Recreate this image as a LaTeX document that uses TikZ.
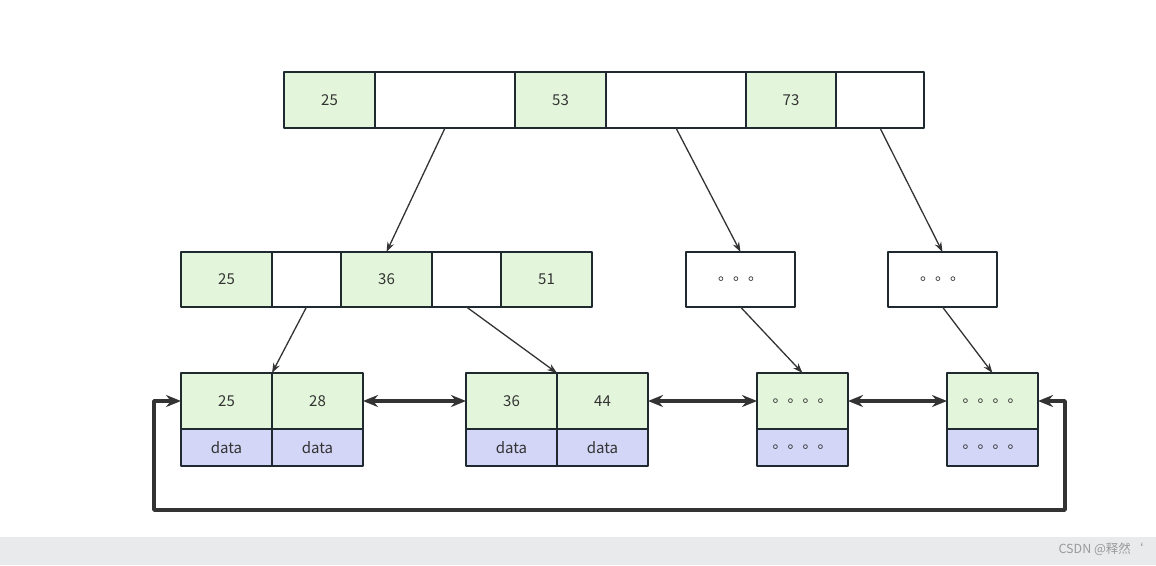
\documentclass[tikz,border=0pt]{standalone}
\usepackage{fontspec}
\setmainfont{Noto Sans CJK SC}
\usetikzlibrary{arrows.meta}
\definecolor{keygreen}{HTML}{E3F5DA}
\definecolor{datablue}{HTML}{D3D6F7}
\definecolor{edgedark}{HTML}{1F2A30}
\definecolor{inkgray}{HTML}{333333}
\definecolor{barback}{HTML}{E9EAEC}
\definecolor{markgray}{HTML}{9A9A9A}
\begin{document}
\begin{tikzpicture}[x=1pt, y=-1pt, font=\fontsize{15}{17}\selectfont, line join=round, >=Stealth]
	\tikzset{cell/.style={draw=edgedark, line width=1.6pt, inner sep=0pt, outer sep=0pt, text=inkgray, minimum height=56pt},
		keycell/.style={cell, fill=keygreen},
		emptycell/.style={cell, fill=white},
		datacell/.style={cell, fill=datablue, minimum height=37pt},
		link/.style={->, draw=inkgray, line width=1.3pt, >={Stealth[length=10pt,width=7pt]}},
		chain/.style={<->, draw=inkgray, line width=3.6pt, >={Stealth[length=15pt,width=12pt]}}}
	\useasboundingbox (0,0) rectangle (1156,565);
	\fill[barback] (0,537) rectangle (1156,565);
	\node[text=markgray, font=\fontsize{12.5}{14}\selectfont] (mark) at (1101,549) {CSDN @释然\symbol{96}};
	% root
	\foreach \nm/\cx/\cw/\st/\txt in {t1/329.5/91/keycell/25, t2/445/140/emptycell/, t3/560.5/91/keycell/53, t4/676/140/emptycell/, t5/791/90/keycell/73, t6/880/88/emptycell/}
		\node[\st, minimum width=\cw pt] (\nm) at (\cx,100) {\txt};
	% inner level
	\foreach \nm/\cx/\cw/\st/\txt in {m1/226.5/91/keycell/25, m2/306.5/69/emptycell/, m3/386.5/91/keycell/36, m4/466.5/69/emptycell/, m5/546.5/91/keycell/51}
		\node[\st, minimum width=\cw pt, minimum height=55pt] (\nm) at (\cx,279.5) {\txt};
	\node[emptycell, minimum width=109pt, minimum height=55pt] (d1) at (740.5,279.5) {。。。};
	\node[emptycell, minimum width=109pt, minimum height=55pt] (d2) at (942.5,279.5) {。。。};
	% leaves
	\node[keycell, minimum width=91pt] (l1a) at (226.5,401) {25};
	\node[keycell, minimum width=91pt] (l1b) at (317.5,401) {28};
	\node[datacell, minimum width=91pt] (l1c) at (226.5,447.5) {data};
	\node[datacell, minimum width=91pt] (l1d) at (317.5,447.5) {data};
	\node[keycell, minimum width=91pt] (l2a) at (511.5,401) {36};
	\node[keycell, minimum width=91pt] (l2b) at (602.5,401) {44};
	\node[datacell, minimum width=91pt] (l2c) at (511.5,447.5) {data};
	\node[datacell, minimum width=91pt] (l2d) at (602.5,447.5) {data};
	\node[keycell, minimum width=91pt] (l3a) at (802.5,401) {。。。。};
	\node[datacell, minimum width=91pt] (l3c) at (802.5,447.5) {。。。。};
	\node[keycell, minimum width=91pt] (l4a) at (992.5,401) {。。。。};
	\node[datacell, minimum width=91pt] (l4c) at (992.5,447.5) {。。。。};
	% pointers
	\draw[link] (t2.south)--(m3.north);
	\draw[link] (t4.south)--(d1.north);
	\draw[link] (t6.south)--(d2.north);
	\draw[link] (m2.south)--(l1a.north east);
	\draw[link] (m4.south)--(l2a.north east);
	\draw[link] (d1.south)--(l3a.north);
	\draw[link] (d2.south)--(l4a.north);
	\draw[chain] (l1b.east)--(l2a.west);
	\draw[chain] (l2b.east)--(l3a.west);
	\draw[chain] (l3a.east)--(l4a.west);
	\coordinate (loopR) at (1065,510);
	\coordinate (loopL) at (154,510);
	\draw[chain] (l4a.east) -| (loopR) -- (loopL) |- (l1a.west);
\end{tikzpicture}
\end{document}
